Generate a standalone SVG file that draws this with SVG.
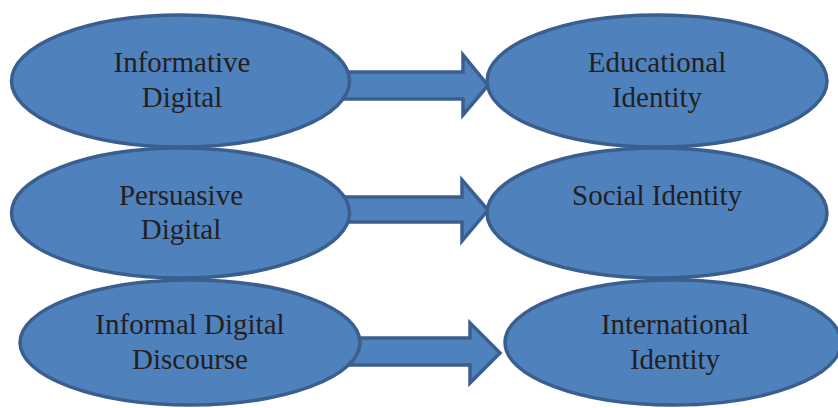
<svg xmlns="http://www.w3.org/2000/svg" width="838" height="408" viewBox="0 0 838 408">
  <style>
    .shape { fill: #4f81bd; stroke: #3a5f8f; stroke-width: 3.5; stroke-linejoin: miter; }
    .label { font-family: "Liberation Serif", "Times New Roman", serif; font-size: 29px; fill: #231f20; text-anchor: middle; }
  </style>
  <rect width="838" height="408" fill="#ffffff"/>

  <!-- block arrows linking each discourse type to its identity -->
  <g id="connectors">
    <polygon class="shape" points="340,72 463,72 463,55 488,85.5 463,115 463,99 340,99"/>
    <polygon class="shape" points="340,197 462,197 462,180 488,210 462,241 462,222 340,222"/>
    <polygon class="shape" points="350,338 470,338 470,323 500,353 470,383 470,365 350,365"/>
  </g>

  <g id="informative-digital">
    <ellipse class="shape" cx="180.5" cy="81" rx="169" ry="66"/>
    <text class="label" x="182" y="72">Informative</text>
    <text class="label" x="182" y="107">Digital</text>
  </g>
  <g id="educational-identity">
    <ellipse class="shape" cx="657" cy="81" rx="170" ry="66"/>
    <text class="label" x="657" y="72">Educational</text>
    <text class="label" x="657" y="107">Identity</text>
  </g>

  <g id="persuasive-digital">
    <ellipse class="shape" cx="180.5" cy="213" rx="169" ry="65"/>
    <text class="label" x="181" y="205">Persuasive</text>
    <text class="label" x="181" y="239">Digital</text>
  </g>
  <g id="social-identity">
    <ellipse class="shape" cx="657" cy="213" rx="170" ry="65"/>
    <text class="label" x="657" y="205">Social Identity</text>
  </g>

  <g id="informal-digital-discourse">
    <ellipse class="shape" cx="190" cy="342.5" rx="170" ry="62.5"/>
    <text class="label" x="190" y="334">Informal Digital</text>
    <text class="label" x="190" y="369">Discourse</text>
  </g>
  <g id="international-identity">
    <ellipse class="shape" cx="673" cy="342.5" rx="168" ry="62.5"/>
    <text class="label" x="675" y="334">International</text>
    <text class="label" x="675" y="369">Identity</text>
  </g>
</svg>
